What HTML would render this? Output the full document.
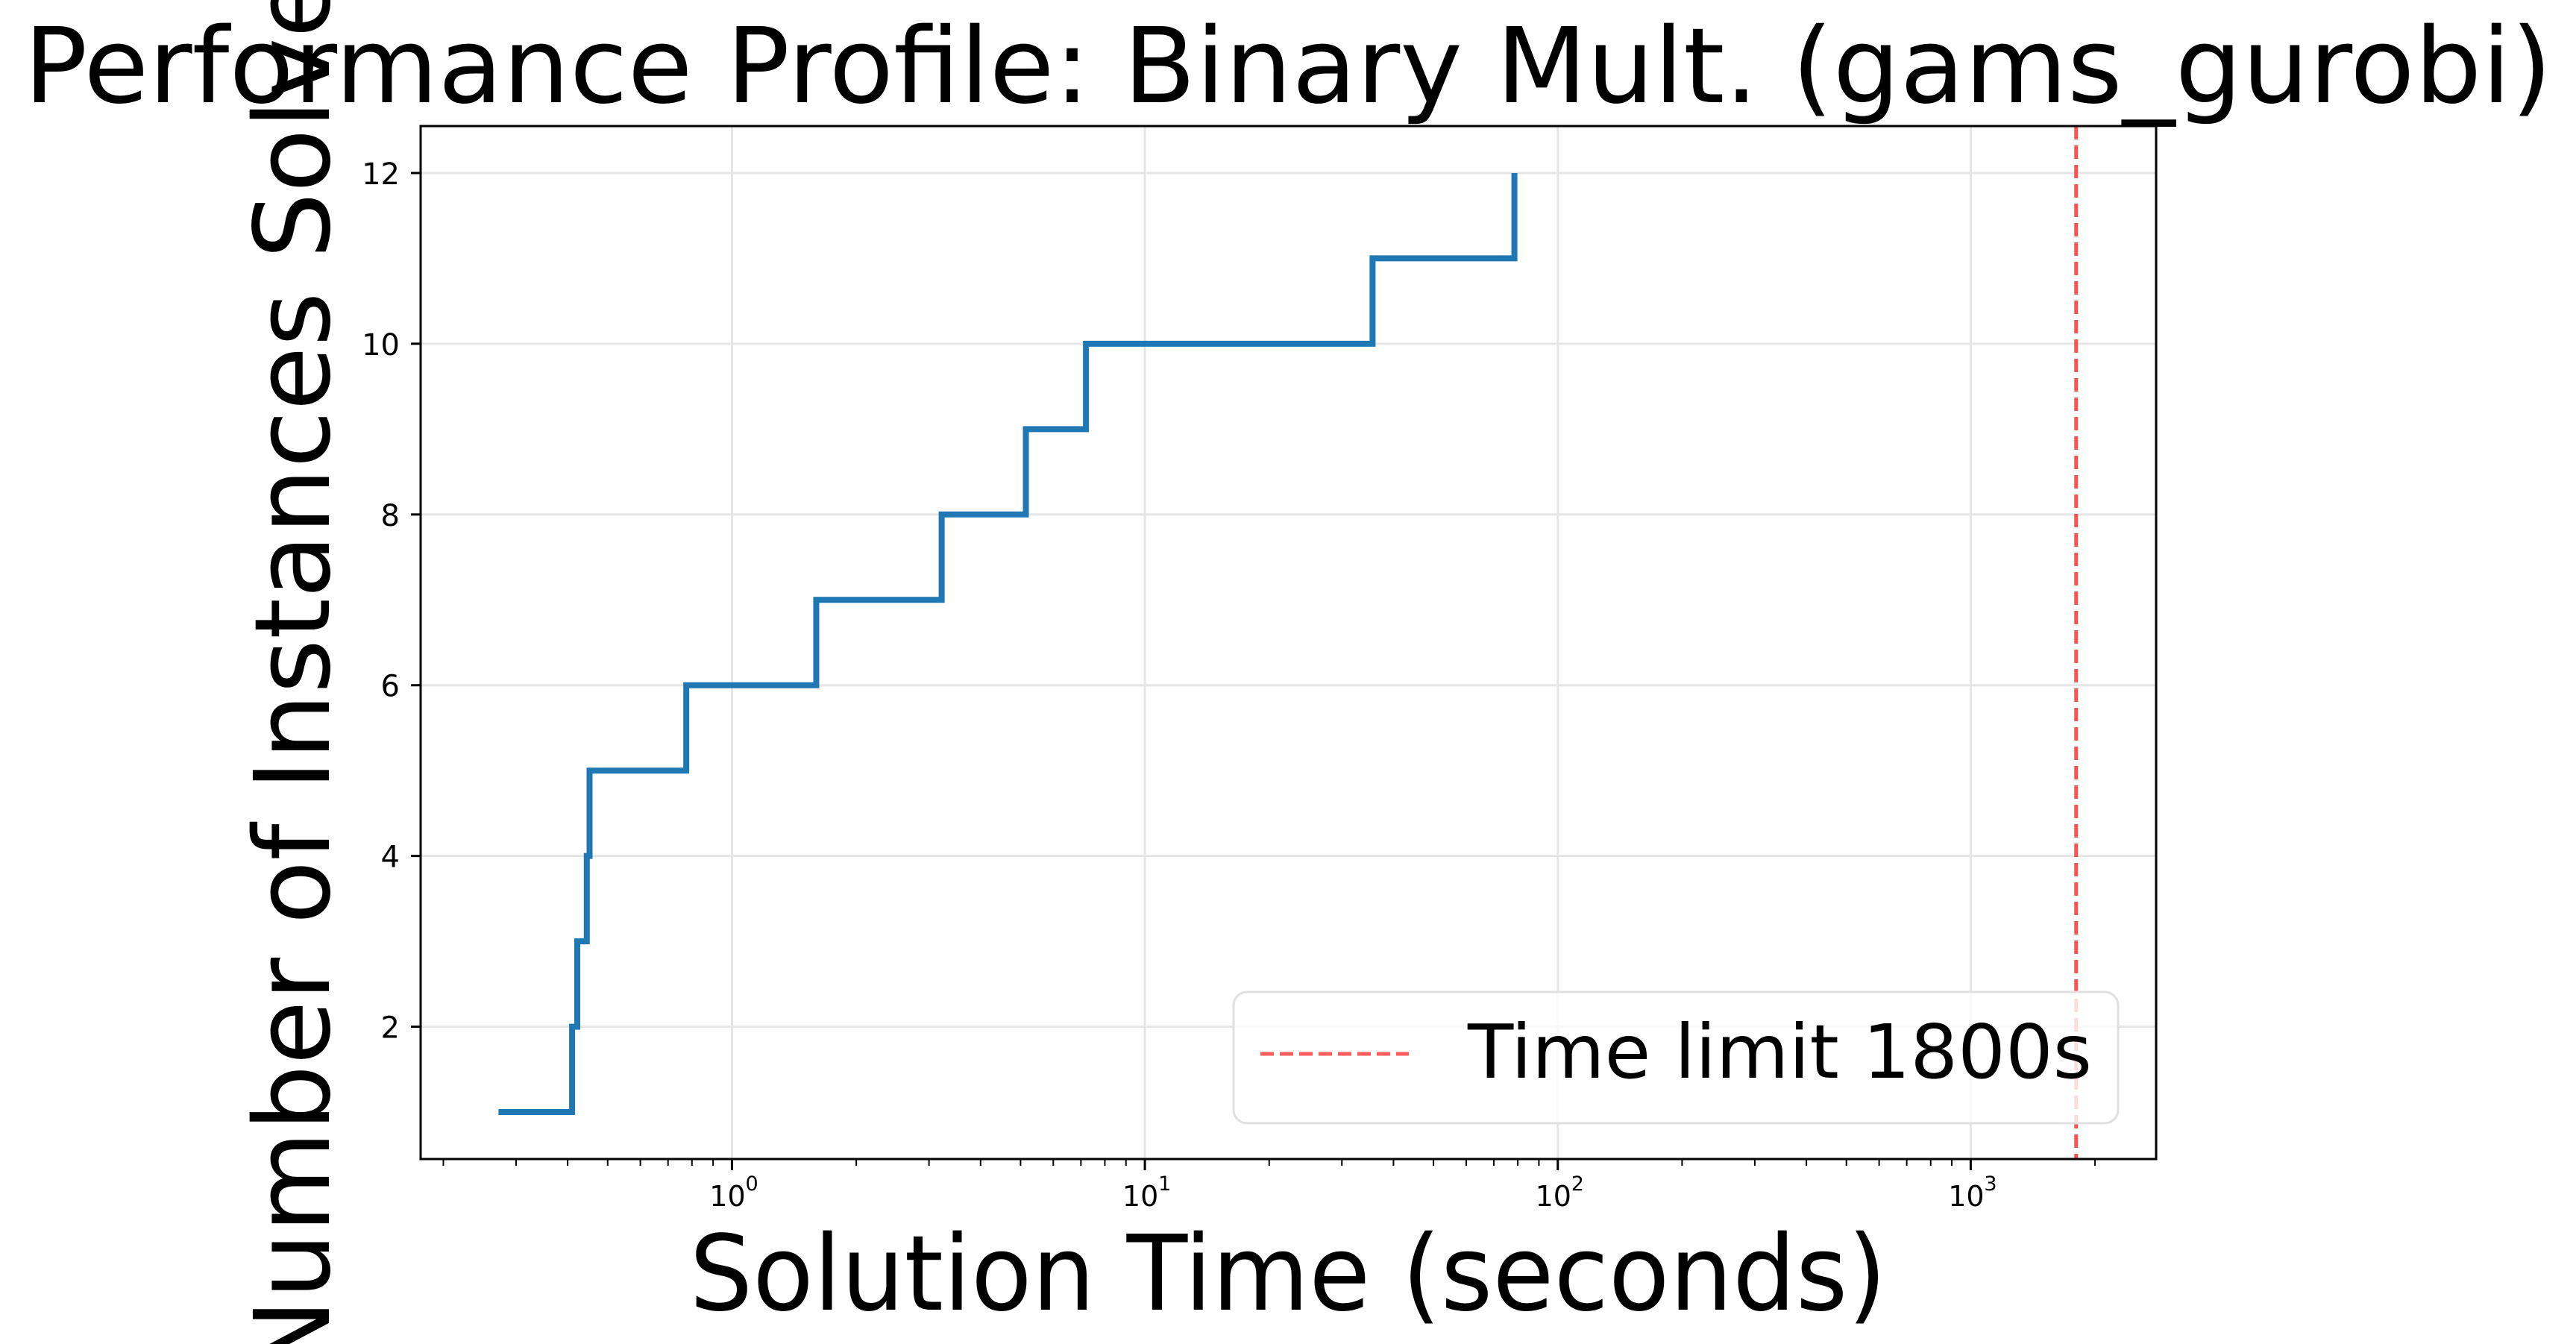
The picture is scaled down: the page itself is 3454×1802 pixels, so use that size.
<!DOCTYPE html>
<html><head><meta charset="utf-8"><style>
html,body{margin:0;padding:0;background:#fff;}
svg{display:block;font-family:"DejaVu Sans","Liberation Sans",sans-serif;}
</style></head><body>
<svg id="chart" width="3454" height="1802" viewBox="0 0 3454 1802" xmlns="http://www.w3.org/2000/svg">
<rect x="0" y="0" width="3454" height="1802" fill="#fff"/>
<text x="1727" y="137" font-size="140" text-anchor="middle" textLength="3390" lengthAdjust="spacingAndGlyphs">Performance Profile: Binary Mult. (gams_gurobi)</text>
<g id="grid"></g>
<g id="plot"></g>
<g id="axes"></g>
<text x="1727" y="1756" font-size="140" text-anchor="middle" textLength="1605" lengthAdjust="spacingAndGlyphs">Solution Time (seconds)</text>
<text transform="translate(441,861) rotate(-90)" font-size="140" text-anchor="middle">Number of Instances Solved</text>
<g>
<rect x="1654" y="1330" width="1186" height="176" rx="18" fill="#fff" fill-opacity="0.8" stroke="#e0e0e0" stroke-width="3"/>
<line x1="1690" y1="1413" x2="1889" y2="1413" stroke="#ff3333" stroke-opacity="0.8" stroke-width="5" stroke-dasharray="18,8"/>
<text x="1968" y="1445" font-size="100" textLength="837" lengthAdjust="spacingAndGlyphs">Time limit 1800s</text>
</g>
</svg>
<script>
const times = [0.272,0.41,0.422,0.445,0.452,0.775,1.6,3.22,5.15,7.2,35.6,78.5];
const counts = [1,2,3,4,5,6,7,8,9,10,11,12];
const yTicks = [2,4,6,8,10,12];
const xDecades = [0,1,2,3];
const timeLimit = 1800;

const L=564,R=2891,T=169,B=1554;
const xMinLog=Math.log10(0.1762),xMaxLog=Math.log10(2812);
const yMin=0.45,yMax=12.55;
function xs(v){return L+(Math.log10(v)-xMinLog)/(xMaxLog-xMinLog)*(R-L);}
function ys(v){return B-(v-yMin)/(yMax-yMin)*(B-T);}
const NS='http://www.w3.org/2000/svg';
function mk(tag,attrs,parent){const e=document.createElementNS(NS,tag);for(const k in attrs)e.setAttribute(k,attrs[k]);parent.appendChild(e);return e;}
const grid=document.getElementById('grid'),plot=document.getElementById('plot'),axes=document.getElementById('axes');

yTicks.forEach(v=>{
  const y=ys(v);
  const g=mk('line',{x1:L,x2:R,y1:y,y2:y,stroke:'#e6e6e6','stroke-width':3},grid);
  
  
  const t=mk('line',{x1:L-13,x2:L,y1:y,y2:y,stroke:'#000','stroke-width':3},axes);
  
  
  const lb=mk('text',{x:L-28,y:y+15,'font-size':40,'text-anchor':'end'},axes);
  lb.textContent=String(v);
  
  
});
xDecades.forEach(d=>{
  const x=xs(Math.pow(10,d));
  const g=mk('line',{x1:x,x2:x,y1:T,y2:B,stroke:'#e6e6e6','stroke-width':3},grid);
  
  
  const t=mk('line',{x1:x,x2:x,y1:B,y2:B+15,stroke:'#000','stroke-width':3},axes);
  
  
  const lb=mk('text',{x:x-6,y:B+63,'font-size':38,'text-anchor':'middle'},axes);
  lb.textContent='10';
  
  
  const sp=mk('text',{x:x+18,y:B+42,'font-size':27},axes);
  sp.textContent=String(d);
  
  
});
for(let d=-1;d<=3;d++){for(let m=2;m<=9;m++){const v=m*Math.pow(10,d);const x=xs(v);if(x<L||x>R)continue;
  const t=mk('line',{x1:x,x2:x,y1:B,y2:B+9,stroke:'#000','stroke-width':2},axes);
  
  
}}
let d='M'+xs(times[0])+','+ys(counts[0]);
for(let i=1;i<times.length;i++){d+=' H'+xs(times[i])+' V'+ys(counts[i]);}
const p=mk('path',{d:d,fill:'none',stroke:'#1f77b4','stroke-width':8,'stroke-linejoin':'miter'},plot);


const tl=mk('line',{x1:xs(timeLimit),x2:xs(timeLimit),y1:T,y2:B,stroke:'#ff3333','stroke-opacity':0.85,'stroke-width':5,'stroke-dasharray':'18,8'},plot);


const fr=mk('rect',{x:L,y:T,width:R-L,height:B-T,fill:'none',stroke:'#000','stroke-width':3},axes);


</script>
</body></html>
